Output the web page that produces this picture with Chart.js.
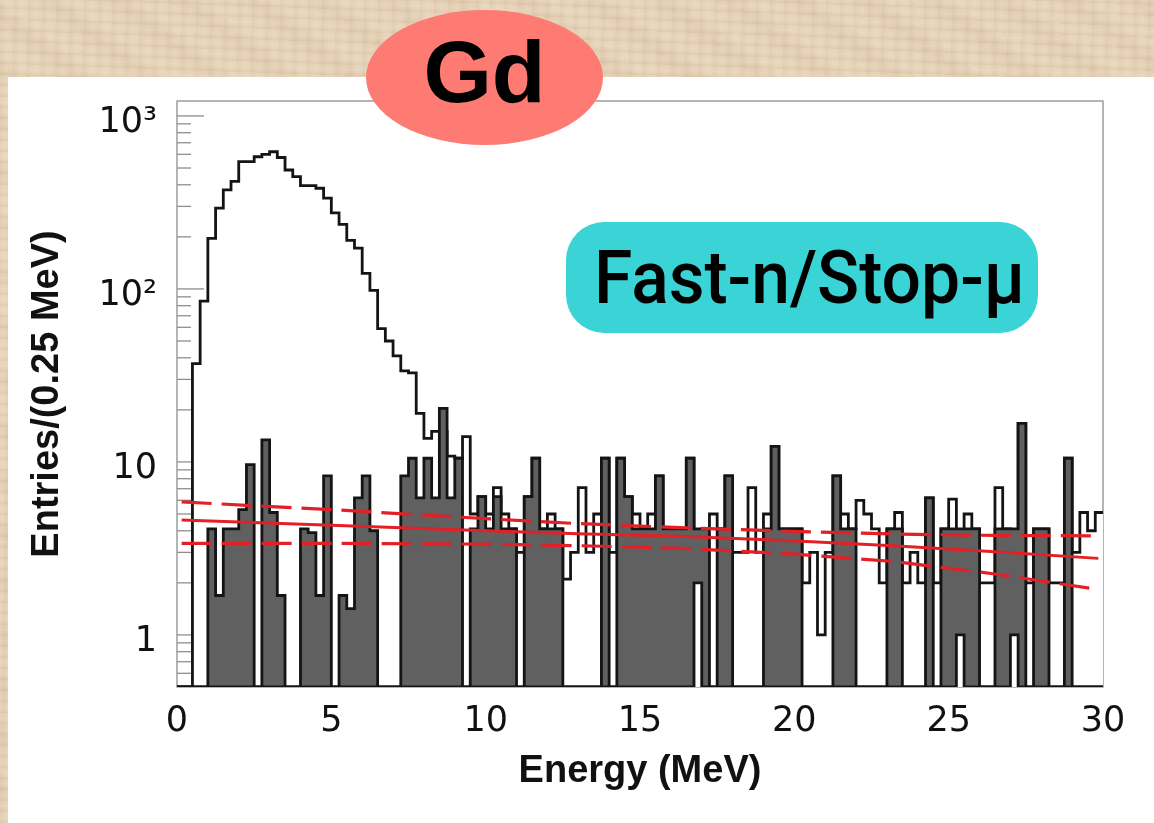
<!DOCTYPE html>
<html>
<head>
<meta charset="utf-8">
<script src="https://cdn.jsdelivr.net/npm/chart.js@4.4.1/dist/chart.umd.min.js"></script>
<style>
  html, body { margin: 0; padding: 0; }
  body {
    width: 1154px; height: 823px; overflow: hidden; position: relative;
    background-color: #e5d1b6;
    background-image:
      repeating-linear-gradient(2deg, rgba(140,100,60,0.07) 0px, rgba(140,100,60,0) 3px, rgba(255,250,240,0.10) 6px, rgba(140,100,60,0) 11px),
      repeating-linear-gradient(91deg, rgba(120,90,60,0.05) 0px, rgba(255,255,255,0) 5px, rgba(255,250,240,0.08) 8px, rgba(120,90,60,0) 14px),
      repeating-linear-gradient(37deg, rgba(255,250,240,0.06) 0px, rgba(255,250,240,0) 17px, rgba(140,100,60,0.05) 29px, rgba(255,250,240,0) 41px);
  }
  #panel { position: absolute; left: 8px; top: 77px; right: 0; bottom: 0; background: #fff; }
  #wrap { position: absolute; left: 0; top: 0; width: 1154px; height: 823px; }
  #gd {
    position: absolute; left: 366px; top: 10px; width: 237px; height: 135px;
    border-radius: 50%; background: #fd7b72; color: #000;
    font: bold 88px "Liberation Sans", Arial, sans-serif;
    text-align: center; line-height: 123px;
  }
  #tag {
    position: absolute; left: 566px; top: 222px; width: 472px; height: 111px;
    border-radius: 38px; background: #3bd4d6;
  }
  #tag span {
    position: absolute; left: 28px; top: 0; white-space: nowrap;
    font: 500 74px Roboto, sans-serif; line-height: 111px; color: #000;
    transform: scaleX(0.94); transform-origin: 0 0;
  }
</style>
</head>
<body>
<div id="panel"></div>
<div id="wrap"><canvas id="chart"></canvas></div>
<div id="gd">Gd</div>
<div id="tag"><span>Fast-n/Stop-μ</span></div>
<script>
// histogram bins: 120 bins of 0.25 MeV from 0 to 30 MeV
var BIN_WIDTH = 0.25;

// open (white) histogram, entries per bin
var candidates = [
  0, 0, 37, 85, 196, 293, 374, 418, 545, 545,
  581, 600, 621, 575, 487, 446, 396, 396, 382, 335,
  275, 236, 191, 172, 123, 98, 59, 50, 41, 33.6,
  32.7, 19.1, 13.7, 15, 15, 10.8, 10.5, 14, 5.0, 6.3,
  5.0, 7.1, 5.0, 4.1, 3.0, 6.3, 10.5, 4.1, 5.0, 4.1,
  2.1, 3.0, 7.1, 3.0, 5.0, 10.5, 3.0, 10.5, 6.3, 5.0,
  4.1, 5.0, 8.3, 4.1, 4.1, 4.1, 10.5, 2.0, 4.1, 5.0,
  4.1, 8.3, 3.0, 3.0, 7.1, 3.0, 5.0, 12.3, 4.1, 4.1,
  4.1, 2.0, 3.0, 1.0, 3.0, 8.3, 5.0, 4.1, 6.0, 5.0,
  4.1, 2.0, 4.1, 5.1, 2.0, 3.0, 2.0, 6.2, 2.0, 4.1,
  6.1, 1.0, 5.0, 4.1, 2.0, 2.0, 7.1, 4.1, 1.0, 16.7,
  2.0, 4.1, 4.1, 2.0, 2.0, 10.5, 3.0, 5.1, 4.0, 5.1
];

// filled (dark) fast-n / stop-mu histogram
var fastN = [
  0, 0, 0, 0, 4.1, 1.69, 4.1, 4.1, 5.3, 9.65,
  0, 13.4, 5.1, 1.69, 0, 0, 4.1, 3.9, 1.69, 8.3,
  0, 1.69, 1.42, 6.2, 8.3, 4.0, 0, 0, 0, 8.3,
  10.5, 6.2, 10.5, 6.2, 20.4, 6.2, 10.5, 0, 4.1, 6.3,
  4.1, 6.3, 4.1, 4.1, 0, 6.3, 10.5, 4.1, 4.1, 4.1,
  0, 0, 0, 0, 0, 10.5, 0, 10.5, 6.3, 4.1,
  4.1, 4.1, 8.3, 4.1, 4.1, 4.1, 10.5, 4.1, 4.1, 0,
  4.1, 8.3, 0, 0, 0, 0, 4.1, 12.3, 4.1, 4.1,
  4.1, 0, 0, 0, 0, 8.3, 4.1, 4.1, 0, 0,
  0, 0, 4.1, 4.1, 0, 0, 0, 6.2, 0, 4.1,
  4.1, 4.1, 4.1, 4.1, 0, 0, 4.1, 4.1, 4.1, 16.7,
  0, 4.1, 4.1, 0, 0, 10.5, 0, 0, 0, 0
];

// bins where the open histogram is drawn in front of the filled one
var frontBins = [67, 101, 108];

// red fit line and its error band (read at these energies)
var fitE       = [0.15, 5, 10, 13, 16.3, 19.9, 23.2, 26.5, 29.85];
var fitCentral = [4.62, 4.3, 4.0, 3.85, 3.72, 3.5, 3.28, 3.03, 2.77];
var fitUpper   = [5.87, 5.3, 4.7, 4.4, 4.17, 3.97, 3.83, 3.76, 3.74];
var fitLower   = [3.38, 3.38, 3.35, 3.28, 3.17, 2.94, 2.66, 2.25, 1.83];

// axis ticks
var yTickValues = [0.6, 0.7, 0.8, 0.9, 1, 2, 3, 4, 5, 6, 7, 8, 9,
                   10, 20, 30, 40, 50, 60, 70, 80, 90,
                   100, 200, 300, 400, 500, 600, 700, 800, 900, 1000];
var yTickLabels = { 1: '1', 10: '10', 100: '10\u00b2', 1000: '10\u00b3' };
var Y_MIN = 0.5, Y_MAX = 1220;

// one point per bin left edge plus the closing right edge; empty bins sit on the axis floor
function histPoints(values) {
    var pts = values.map(function (v, i) {
        return { x: i * BIN_WIDTH, y: v > 0 ? v : Y_MIN };
    });
    var last = values[values.length - 1];
    pts.push({ x: values.length * BIN_WIDTH, y: last > 0 ? last : Y_MIN });
    return pts;
}

function fitPoints(values) {
    return values.map(function (v, i) { return { x: fitE[i], y: v }; });
}

var frontValues = candidates.map(function (v, i) {
    return frontBins.indexOf(i) >= 0 ? v : 0;
});

// ROOT style frame with ticks pointing inside
var frameTicks = {
    id: 'frameTicks',
    beforeDatasetsDraw: function (chart) {
        var ctx = chart.ctx, a = chart.chartArea;
        var x = chart.scales.x, y = chart.scales.y;
        ctx.save();
        ctx.strokeStyle = '#8e8e8e';
        ctx.lineWidth = 1.3;
        ctx.strokeRect(a.left, a.top, a.right - a.left, a.bottom - a.top);
        yTickValues.forEach(function (v) {
            var py = y.getPixelForValue(v);
            var len = yTickLabels[v] ? 27 : 14;
            ctx.beginPath();
            ctx.moveTo(a.left, py);
            ctx.lineTo(a.left + len, py);
            ctx.stroke();
        });
        for (var e = 1; e < 30; e++) {
            var px = x.getPixelForValue(e);
            var l = e % 5 === 0 ? 14 : 7;
            ctx.beginPath();
            ctx.moveTo(px, a.bottom);
            ctx.lineTo(px, a.bottom - l);
            ctx.stroke();
        }
        ctx.restore();
    }
};

document.addEventListener('DOMContentLoaded', function () {
    var ctx = document.getElementById('chart').getContext('2d');
    var red = 'rgb(226, 32, 38)';
    var black = '#141414';

    new Chart(ctx, {
        type: 'line',
        data: {
            datasets: [
                {
                    label: 'fit',
                    data: fitPoints(fitCentral),
                    borderColor: red, borderWidth: 3,
                    pointRadius: 0, fill: false, order: 0
                },
                {
                    label: 'fit upper',
                    data: fitPoints(fitUpper),
                    borderColor: red, borderWidth: 3.2, borderDash: [30, 10],
                    pointRadius: 0, fill: false, order: 0
                },
                {
                    label: 'fit lower',
                    data: fitPoints(fitLower),
                    borderColor: red, borderWidth: 3.2, borderDash: [30, 10],
                    pointRadius: 0, fill: false, order: 0
                },
                {
                    label: 'candidates (front)',
                    data: histPoints(frontValues),
                    stepped: 'before',
                    borderColor: black, borderWidth: 2.8,
                    backgroundColor: '#ffffff',
                    fill: 'start', pointRadius: 0, order: 1
                },
                {
                    label: 'Fast-n/Stop-mu',
                    data: histPoints(fastN),
                    stepped: 'before',
                    borderColor: black, borderWidth: 2.8,
                    backgroundColor: '#606060',
                    fill: 'start', pointRadius: 0, order: 2
                },
                {
                    label: 'candidates',
                    data: histPoints(candidates),
                    stepped: 'before',
                    borderColor: black, borderWidth: 2.8,
                    backgroundColor: '#ffffff',
                    fill: 'start', pointRadius: 0, order: 3
                }
            ]
        },
        options: {
            responsive: true,
            maintainAspectRatio: false,
            animation: false,
            devicePixelRatio: 1,
            layout: { padding: { left: 0, top: 101, right: 51, bottom: 0 } },
            plugins: { legend: { display: false }, tooltip: { enabled: false } },
            scales: {
                x: {
                    type: 'linear', min: 0, max: 30,
                    afterFit: function (s) { s.height = 136; },
                    grid: { display: false, drawTicks: false },
                    border: { display: false },
                    ticks: {
                        stepSize: 5, padding: 14, color: '#111',
                        font: { family: 'DejaVu Sans', size: 35 }
                    },
                    title: {
                        display: true, text: 'Energy (MeV)', color: '#111',
                        font: { family: 'Liberation Sans', size: 38, weight: 'bold' },
                        padding: { top: 0, bottom: 29 }
                    }
                },
                y: {
                    type: 'logarithmic', min: Y_MIN, max: Y_MAX,
                    afterFit: function (s) { s.width = 177; },
                    afterBuildTicks: function (s) {
                        s.ticks = yTickValues.map(function (v) { return { value: v }; });
                    },
                    grid: { display: false, drawTicks: false },
                    border: { display: false },
                    ticks: {
                        autoSkip: false, padding: 20, labelOffset: 7, color: '#111',
                        font: { family: 'DejaVu Sans', size: 35 },
                        callback: function (v) { return yTickLabels[v] || ''; }
                    },
                    title: {
                        display: true, text: 'Entries/(0.25 MeV)', color: '#111',
                        font: { family: 'Liberation Sans', size: 38, weight: 'bold' },
                        padding: { top: 25, bottom: 0 }
                    }
                }
            }
        },
        plugins: [frameTicks]
    });
});
</script>
</body>
</html>
